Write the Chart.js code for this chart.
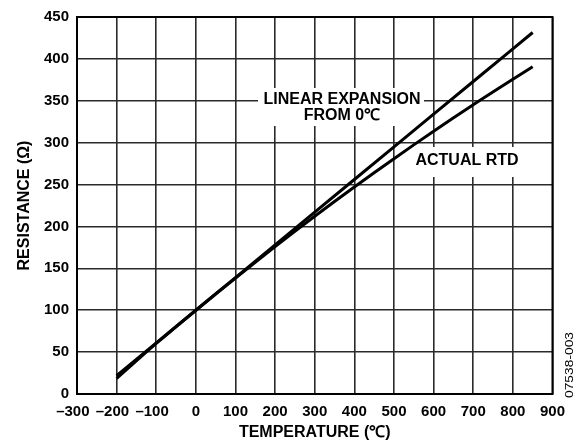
<!DOCTYPE html>
<html lang="en">
<head>
  <meta charset="UTF-8" />
  <title>RTD Resistance vs Temperature</title>
  <script src="https://cdn.jsdelivr.net/npm/chart.js"></script>
  <style>
    html, body { margin: 0; padding: 0; background: #fff; }
    #wrap { width: 574px; height: 443px; }
  </style>
</head>
<body>
  <div id="wrap"><canvas id="rtdChart" width="574" height="443"></canvas></div>

  <script>
    // values
    const temps = [-200, -100, 0, 100, 200, 300, 400, 500, 600, 700, 800, 850];
    const actualRTD = [18.5, 60.3, 100, 138.5, 175.9, 212.1, 247.1, 280.9, 313.7, 345.3, 375.7, 390.5];
    const linearExp = [22, 61, 100, 139, 178, 217, 256, 295, 334, 373, 412, 431.5];

    const xTicks = [-300, -200, -100, 0, 100, 200, 300, 400, 500, 600, 700, 800, 900];
    const yTicks = [0, 50, 100, 150, 200, 250, 300, 350, 400, 450];

    const FONT = '"Liberation Sans", Arial, Helvetica, sans-serif';

    function toPoints(ys) {
      return temps.map((t, i) => ({ x: t, y: ys[i] }));
    }

    // titles, the two labels with their white boxes, the figure code
    const decorations = {
      id: 'decorations',
      beforeDatasetsDraw(chart) {
        const c = chart.ctx;
        const a = chart.chartArea;
        c.save();
        c.fillStyle = '#fff';
        c.fillRect(258, 88, 166, 38);
        c.fillRect(410, 147, 112, 30);
        c.strokeStyle = '#000';
        c.lineWidth = 2;
        c.strokeRect(a.left, a.top, a.right - a.left, a.bottom - a.top);
        c.restore();
      },
      afterDraw(chart) {
        const c = chart.ctx;
        const a = chart.chartArea;
        c.save();
        c.fillStyle = '#000';
        c.textAlign = 'center';
        c.textBaseline = 'middle';
        c.font = 'bold 16px ' + FONT;
        c.fillText('LINEAR EXPANSION', 342, 100);
        c.fillText('FROM 0\u2103', 342, 116);
        c.fillText('ACTUAL RTD', 467, 161);

        c.fillText('TEMPERATURE (\u2103)', (a.left + a.right) / 2, 433);

        c.save();
        c.translate(25, (a.top + a.bottom) / 2);
        c.rotate(-Math.PI / 2);
        c.fillText('RESISTANCE (\u03A9)', 0, 0);
        c.restore();

        c.save();
        c.font = '10px ' + FONT;
        c.translate(570, 365);
        c.rotate(-Math.PI / 2);
        const w = c.measureText('07538-003').width;
        c.scale(66 / w, 1);
        c.fillText('07538-003', 0, 0);
        c.restore();
        c.restore();
      }
    };

    const ctx = document.getElementById('rtdChart').getContext('2d');
    const rtdChart = new Chart(ctx, {
      type: 'line',
      data: {
        datasets: [
          {
            label: 'Linear expansion from 0\u2103',
            data: toPoints(linearExp),
            borderColor: '#000',
            borderWidth: 3,
            pointRadius: 0,
            tension: 0
          },
          {
            label: 'Actual RTD',
            data: toPoints(actualRTD),
            borderColor: '#000',
            borderWidth: 3,
            pointRadius: 0,
            tension: 0.3
          }
        ]
      },
      options: {
        responsive: false,
        animation: false,
        layout: { padding: { top: 13, right: 19, left: 0, bottom: 0 } },
        plugins: {
          legend: { display: false },
          tooltip: { enabled: false }
        },
        scales: {
          x: {
            type: 'linear',
            min: -300,
            max: 900,
            afterFit(scale) { scale.height = 49; },
            afterBuildTicks(scale) { scale.ticks = xTicks.map(v => ({ value: v })); },
            grid: { color: '#2a2a2a', lineWidth: 1.6, drawTicks: false },
            border: { display: false },
            ticks: {
              color: '#000',
              padding: 9,
              maxRotation: 0,
              autoSkip: false,
              font: { family: FONT, size: 15, weight: 'bold' },
              callback: v => v < 0 ? '\u2013' + Math.abs(v) + '  ' : String(v)
            }
          },
          y: {
            min: 0,
            max: 450,
            afterFit(scale) { scale.width = 77; },
            afterBuildTicks(scale) { scale.ticks = yTicks.map(v => ({ value: v })); },
            grid: { color: '#2a2a2a', lineWidth: 1.6, drawTicks: false },
            border: { display: false },
            ticks: {
              color: '#000',
              padding: 8,
              autoSkip: false,
              font: { family: FONT, size: 15, weight: 'bold' }
            }
          }
        }
      },
      plugins: [decorations]
    });
  </script>
</body>
</html>
